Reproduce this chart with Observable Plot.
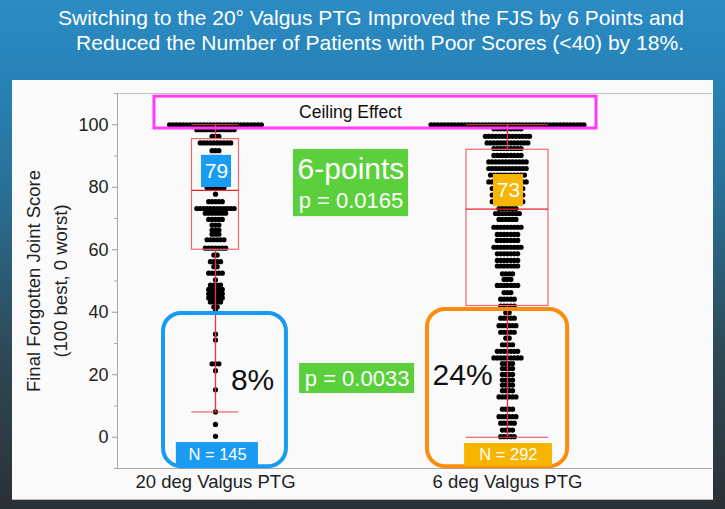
<!DOCTYPE html>
<html><head><meta charset="utf-8">
<script src="https://cdn.jsdelivr.net/npm/d3@7"></script>
<script src="https://cdn.jsdelivr.net/npm/@observablehq/plot@0.6"></script>
<style>
body{margin:0;}
#page{position:relative;width:725px;height:509px;overflow:hidden;
 background:linear-gradient(180deg,#2b8bc3 0%,#2783b8 15%,#296f95 38%,#2e4a57 68%,#2b3035 100%);
 font-family:"Liberation Sans",Arial,sans-serif;}
.tl{position:absolute;color:#fff;font-size:21px;white-space:nowrap;transform-origin:0 0;}
#panel{position:absolute;left:12px;top:80px;width:701px;height:420px;background:#fafafa;border-bottom:1px solid #bbb;box-sizing:border-box;}
</style></head><body>
<div id="page">
 <div class="tl" id="t1" style="left:58px;top:6px;">Switching to the 20° Valgus PTG Improved the FJS by 6 Points and</div>
 <div class="tl" id="t2" style="left:76px;top:31px;">Reduced the Number of Patients with Poor Scores (&lt;40) by 18%.</div>
 <div id="panel"></div>
</div>
<script>
// fit title widths
[["t1",626],["t2",608]].forEach(([id,w])=>{const e=document.getElementById(id);const m=e.getBoundingClientRect().width;e.style.transform=`scaleX(${w/m})`;});

const groups = ["20 deg Valgus PTG", "6 deg Valgus PTG"];
const leftScore = [100,98.4,96.3,94.2,91.7,89.6,87.5,85.4,83.3,81.5,79.9,77.8,75.4,73.2,71.7,69.7,67.9,66.3,65,63.2,60.5,58.3,56.2,54.6,52.5,50.4,48.7,47.3,45.9,44.6,43.3,41.7,40.4,33,31.1,23.5,21.3,15.2,8.1,4.1,0.3];
const leftCount = [28,12,3,10,3,4,3,3,3,3,6,1,5,12,7,5,3,3,3,6,7,2,4,2,5,1,4,5,5,5,4,2,1,1,1,3,1,1,1,1,1];
const rightScore = [100,98.7,96.3,94.2,92.4,90.2,88.1,86,83.9,81.7,79.6,77.5,75.4,73.2,71.6,69.7,67.2,64.9,63,60.8,58.7,56.6,54.8,52.3,50.5,48.6,46.3,44.2,42,39.9,38.1,35.7,33.6,31.7,29.6,27.5,25.4,23.6,22,20.1,18.3,16.7,14.9,12.9,9,6.6,4.5,2.3,0.2];
const rightCount = [46,9,14,13,9,9,12,12,11,12,10,10,10,6,8,6,9,7,7,9,7,7,7,4,3,7,3,5,5,2,5,6,5,2,4,7,9,4,4,4,4,4,4,6,4,6,5,4,5];
const q1 = [60, 42];
const median = [79, 73];
const q3 = [95.4, 92];
const whiskerLow = [8.1, 0];
const whiskerHigh = [100, 100];
const medianLabels = ["79", "73"];
const nLabels = ["N = 145", "N = 292"];
const pctLabels = ["8%", "24%"];
const yTicks = [0, 20, 40, 60, 80, 100];
const yMinorTicks = [-10, 10, 30, 50, 70, 90, 110];

const step = 3.4/292;
const dots = [];
[[leftScore,leftCount],[rightScore,rightCount]].forEach(([s,c],g)=>{
  s.forEach((v,i)=>{const n=c[i];for(let k=0;k<n;k++)dots.push({x:g+(k-(n-1)/2)*step,y:v});});
});
const boxHalf = [0.0805, 0.1404];
const boxes = groups.map((g,i)=>({g:i,x1:i-boxHalf[i],x2:i+boxHalf[i],q1:q1[i],med:median[i],q3:q3[i],lo:whiskerLow[i],hi:whiskerHigh[i]}));

const BLUE="#1a9bf2", ORANGE="#fb8c0c", AMBER="#f7b500", GREEN="#5cd03c", PINK="#ff3cf5";
const xd=[-0.3356,1.7021];
const ann = {
  ceiling:{x1:-0.209,x2:1.305,y1:98.8,y2:109.0},
  lab:[{x1:-0.048,x2:0.055,y1:79.9,y2:90.2,cx:0.0034,cy:85.0,fill:BLUE},{x1:0.952,x2:1.055,y1:73.8,y2:84.1,cx:1.0034,cy:79.0,fill:AMBER}],
  round:[{x1:-0.178,x2:0.243,y1:-9.4,y2:39.6,stroke:BLUE},{x1:0.726,x2:1.206,y1:-9.4,y2:40.9,stroke:ORANGE}],
  nlab:[{x1:-0.134,x2:0.147,y1:-9.4,y2:-1.7,cx:0.007,cy:-5.6,fill:BLUE},{x1:0.853,x2:1.154,y1:-9.4,y2:-2.0,cx:1.003,cy:-5.6,fill:AMBER}],
  pct:[{x:0.127,y:18.2},{x:0.846,y:19.8}]
};

const plot = Plot.plot({
  width:701, height:420, marginLeft:105, marginRight:1, marginTop:13, marginBottom:32,
  x:{domain:xd, axis:null},
  y:{domain:[-10,110], axis:null},
  style:{background:"transparent", fontFamily:"Liberation Sans, Arial, sans-serif", overflow:"visible"},
  marks:[
    Plot.ruleY([110],{stroke:"#c4c4c4"}),
    Plot.ruleY([-10],{stroke:"#a8a8a8"}),
    Plot.ruleX([xd[0]],{stroke:"#a8a8a8"}),
    Plot.axisY({ticks:yTicks, tickSize:5, tickPadding:4, fontSize:18, stroke:"#999", fill:"#222", label:null}),
    Plot.axisY({ticks:yMinorTicks, tickSize:3, tickFormat:()=>"", stroke:"#aaa", label:null}),
    Plot.axisX({ticks:[0,1], tickFormat:i=>groups[i], tickSize:0, tickPadding:6, fontSize:18.5, fill:"#222", label:null}),
    Plot.text([{x:-0.622,y:50,t:"Final Forgotten Joint Score"},{x:-0.528,y:50,t:"(100 best, 0 worst)"}],{x:"x",y:"y",text:"t",rotate:-90,fontSize:18.5,fill:"#222"}),
    Plot.dot(dots,{x:"x",y:"y",r:2.6,fill:"#000"}),
    Plot.ruleX(boxes,{x:"g",y1:"q3",y2:"hi",stroke:"#f03040",strokeWidth:1.3}),
    Plot.ruleX(boxes,{x:"g",y1:"lo",y2:"q1",stroke:"#f03040",strokeWidth:1.3}),
    Plot.rect(boxes,{x1:"x1",x2:"x2",y1:"q1",y2:"q3",fill:"none",stroke:"#f26570",strokeWidth:1.2}),
    Plot.ruleY(boxes,{y:"med",x1:"x1",x2:"x2",stroke:"#e8202c",strokeWidth:1.2}),
    Plot.ruleY(boxes,{y:"hi",x1:"x1",x2:"x2",stroke:"#e8404c"}),
    Plot.ruleY(boxes,{y:"lo",x1:"x1",x2:"x2",stroke:"#e8404c"}),
    Plot.rect([ann.ceiling],{x1:"x1",x2:"x2",y1:"y1",y2:"y2",fill:"none",stroke:PINK,strokeWidth:3}),
    Plot.text(["Ceiling Effect"],{x:0.462,y:103.9,text:d=>d,fontSize:17.5,fill:"#111"}),
    Plot.rect(ann.lab,{x1:"x1",x2:"x2",y1:"y1",y2:"y2",fill:"fill"}),
    Plot.text(ann.lab.map((d,i)=>({...d,t:medianLabels[i]})),{x:"cx",y:"cy",text:"t",fill:"#fff",fontSize:21}),
    Plot.rect([{x1:0.267,x2:0.661,y1:70.6,y2:92.1},{x1:0.288,x2:0.682,y1:14.0,y2:23.6}],{x1:"x1",x2:"x2",y1:"y1",y2:"y2",fill:GREEN}),
    Plot.text([{x:0.464,y:85.8,t:"6-points",s:30},{x:0.464,y:75.6,t:"p = 0.0165",s:22},{x:0.485,y:18.8,t:"p = 0.0033",s:22}],{x:"x",y:"y",text:"t",fontSize:"s",fill:"#fff"}),
    Plot.rect(ann.round,{x1:"x1",x2:"x2",y1:"y1",y2:"y2",fill:"none",stroke:"stroke",strokeWidth:4,rx:18}),
    Plot.rect(ann.nlab,{x1:"x1",x2:"x2",y1:"y1",y2:"y2",fill:"fill"}),
    Plot.text(ann.nlab.map((d,i)=>({...d,t:nLabels[i]})),{x:"cx",y:"cy",text:"t",fill:"#fff",fontSize:16.5}),
    Plot.text(ann.pct.map((d,i)=>({...d,t:pctLabels[i]})),{x:"x",y:"y",text:"t",fill:"#111",fontSize:30})
  ]
});
document.getElementById("panel").appendChild(plot);
</script>
</body></html>
